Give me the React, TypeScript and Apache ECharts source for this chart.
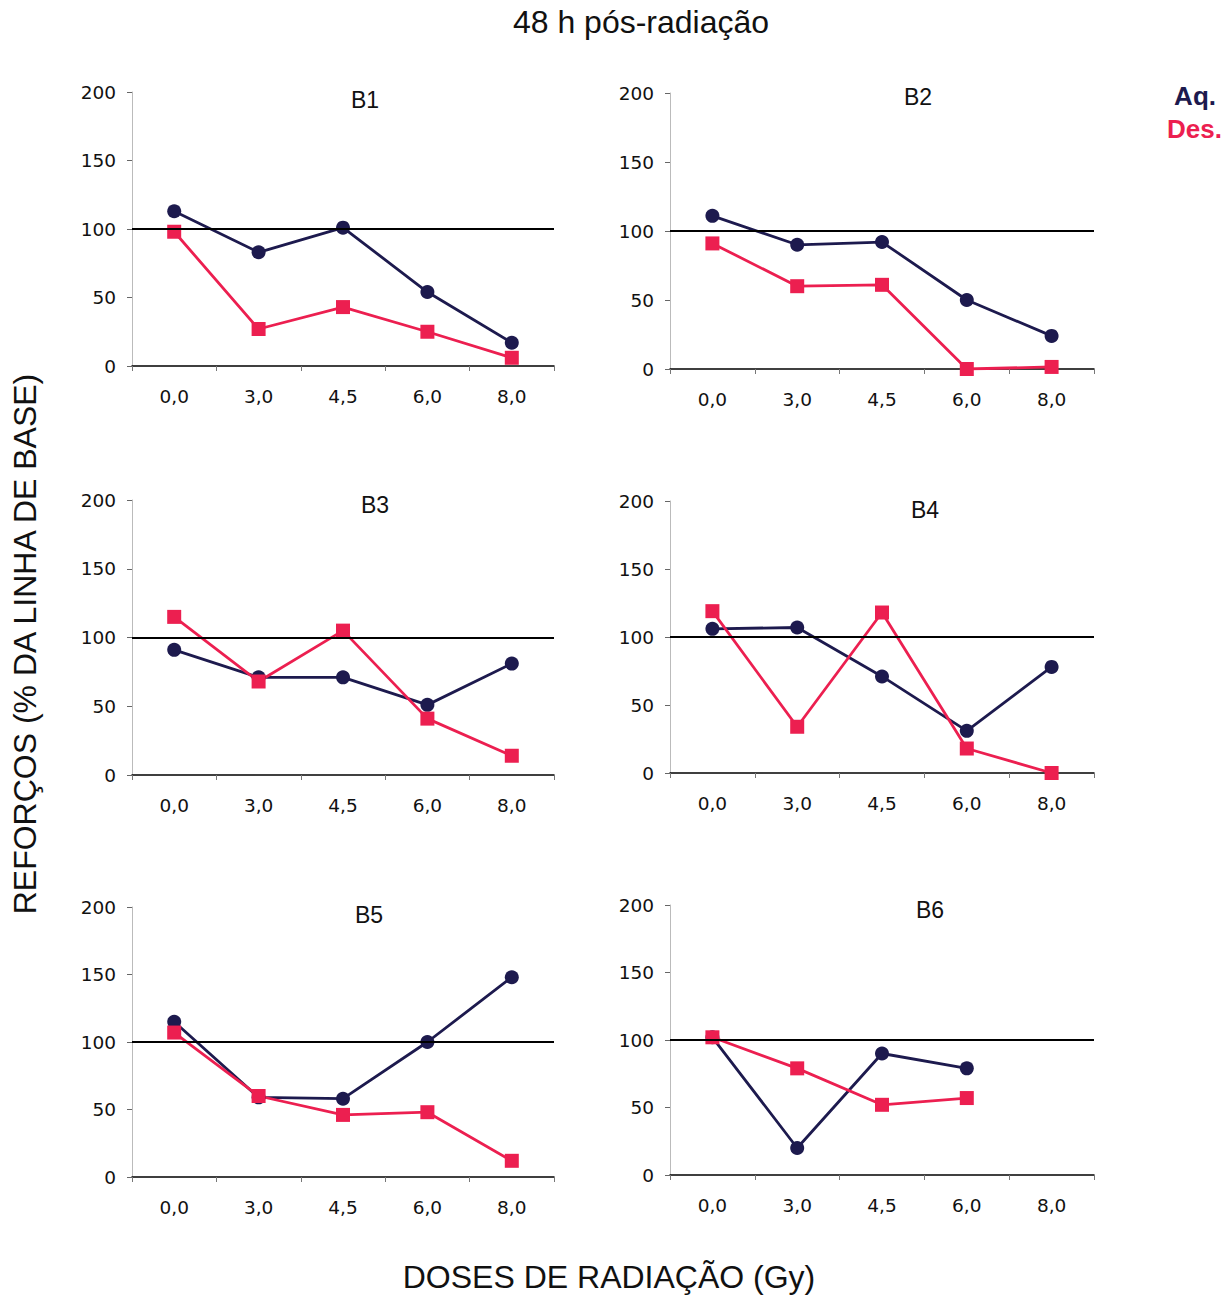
import React, { useEffect, useRef } from "react";
import * as echarts from "echarts";

const doses = ["0,0", "3,0", "4,5", "6,0", "8,0"];
const panelNames = ["B1", "B2", "B3", "B4", "B5", "B6"];
const aqB1 = [113, 83, 101, 54, 17];
const desB1 = [98, 27, 43, 25, 6];
const aqB2 = [111, 90, 92, 50, 24];
const desB2 = [91, 60, 61, 0, 1.5];
const aqB3 = [91, 71, 71, 51, 81];
const desB3 = [115, 68, 105, 41, 14];
const aqB4 = [106, 107, 71, 31, 78];
const desB4 = [119, 34, 118, 18, 0];
const aqB5 = [115, 59, 58, 100, 148];
const desB5 = [107, 60, 46, 48, 12];
const aqB6 = [102, 20, 90, 79, null];
const desB6 = [102, 79, 52, 57, null];
const baseline = 100;
const yMin = 0;
const yMax = 200;
const yStep = 50;

const aqAll = [aqB1, aqB2, aqB3, aqB4, aqB5, aqB6];
const desAll = [desB1, desB2, desB3, desB4, desB5, desB6];

const AQ_COLOR = "#1d1a4e";
const DES_COLOR = "#ec1f50";
const FONT = "'Liberation Sans', Arial, sans-serif";
const TICK_FONT = "'DejaVu Sans', sans-serif";

// grid layout: left, top, width, height
const layout = [
  [132, 92, 422, 274],
  [670, 93, 424, 276],
  [132, 500, 422, 275],
  [670, 501, 424, 272],
  [132, 907, 422, 270],
  [670, 905, 424, 270],
];
const titlePos = [
  [365, 100],
  [918, 97],
  [375, 505],
  [925, 510],
  [369, 915],
  [930, 910],
];

export default function App() {
  const ref = useRef<HTMLDivElement>(null);
  useEffect(() => {
    if (!ref.current) return;
    const chart = echarts.init(ref.current, undefined, { renderer: "svg" });
    const grids = layout.map(([l, t, w, h]) => ({ left: l, top: t, width: w, height: h, containLabel: false }));
    const xAxes = layout.map((_, i) => ({
      type: "category",
      gridIndex: i,
      data: doses,
      boundaryGap: true,
      axisLine: { show: true, lineStyle: { color: "#000", width: 1.5 } },
      axisTick: { show: true, length: 5, lineStyle: { color: "#777" } },
      axisLabel: { fontSize: 18.5, color: "#111", margin: 21, fontFamily: TICK_FONT },
      splitLine: { show: false },
    }));
    const yAxes = layout.map((_, i) => ({
      type: "value",
      gridIndex: i,
      min: yMin,
      max: yMax,
      interval: yStep,
      axisLine: { show: true, lineStyle: { color: "#bbb", width: 1 } },
      axisTick: { show: true, length: 5, lineStyle: { color: "#666" } },
      axisLabel: { fontSize: 18.5, color: "#111", margin: 16, fontFamily: TICK_FONT },
      splitLine: { show: false },
    }));
    const series: any[] = [];
    for (let i = 0; i < 6; i++) {
      series.push({
        name: "Aq.",
        type: "line",
        xAxisIndex: i,
        yAxisIndex: i,
        data: aqAll[i],
        symbol: "circle",
        symbolSize: 14,
        itemStyle: { color: AQ_COLOR },
        lineStyle: { color: AQ_COLOR, width: 2.8 },
        connectNulls: false,
        markLine: {
          silent: true,
          symbol: ["none", "none"],
          label: { show: false },
          lineStyle: { color: "#000", width: 2, type: "solid" },
          data: [{ yAxis: baseline }],
        },
      });
      series.push({
        name: "Des.",
        type: "line",
        xAxisIndex: i,
        yAxisIndex: i,
        data: desAll[i],
        symbol: "rect",
        symbolSize: 14,
        itemStyle: { color: DES_COLOR },
        lineStyle: { color: DES_COLOR, width: 2.8 },
      });
    }
    const graphics: any[] = [
      {
        type: "text",
        x: 641,
        y: 22,
        style: { text: "48 h pós-radiação", fontSize: 32, fontFamily: FONT, fill: "#111", textAlign: "center", textVerticalAlign: "middle" },
      },
      {
        type: "text",
        x: 25,
        y: 644,
        rotation: Math.PI / 2,
        style: { text: "REFORÇOS (% DA LINHA DE BASE)", fontSize: 32, fontFamily: FONT, fill: "#111", textAlign: "center", textVerticalAlign: "middle" },
      },
      {
        type: "text",
        x: 609,
        y: 1277,
        style: { text: "DOSES DE RADIAÇÃO (Gy)", fontSize: 32, fontFamily: FONT, fill: "#111", textAlign: "center", textVerticalAlign: "middle" },
      },
      {
        type: "text",
        x: 1216,
        y: 96,
        style: { text: "Aq.", fontSize: 26, fontWeight: "bold", fontFamily: FONT, fill: AQ_COLOR, textAlign: "right", textVerticalAlign: "middle" },
      },
      {
        type: "text",
        x: 1222,
        y: 129,
        style: { text: "Des.", fontSize: 26, fontWeight: "bold", fontFamily: FONT, fill: DES_COLOR, textAlign: "right", textVerticalAlign: "middle" },
      },
    ];
    panelNames.forEach((n, i) => {
      graphics.push({
        type: "text",
        x: titlePos[i][0],
        y: titlePos[i][1],
        style: { text: n, fontSize: 23, fontFamily: FONT, fill: "#111", textAlign: "center", textVerticalAlign: "middle" },
      });
    });
    chart.setOption({
      animation: false,
      backgroundColor: "#fff",
      grid: grids,
      xAxis: xAxes,
      yAxis: yAxes,
      series,
      graphic: graphics,
    });
    return () => chart.dispose();
  }, []);
  return <div ref={ref} style={{ position: "absolute", left: 0, top: 0, width: 1230, height: 1295 }} />;
}
